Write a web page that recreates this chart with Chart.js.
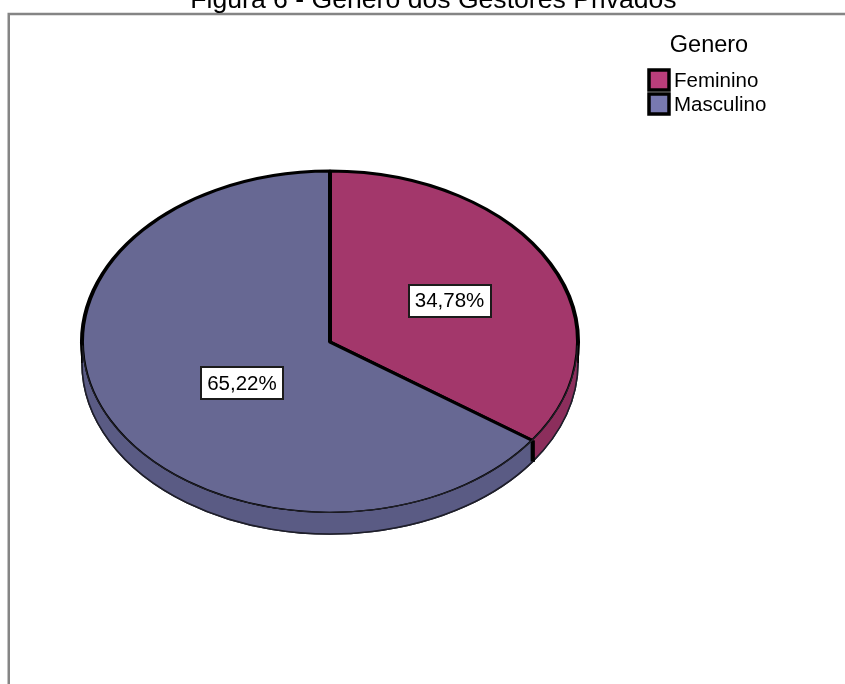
<!DOCTYPE html>
<html><head><meta charset="utf-8">
<script src="https://cdn.jsdelivr.net/npm/chart.js@4/dist/chart.umd.min.js"></script>
<style>html,body{margin:0;padding:0;background:#fff;overflow:hidden}#wrap{position:relative;width:845px;height:684px}canvas{display:block}</style>
</head><body><div id="wrap"><canvas id="c" width="845" height="684"></canvas></div>
<script>
// ---- data ----
const titleText = 'Figura 6 - Gênero dos Gestores Privados';
const legendTitle = 'Genero';
const categories = ['Feminino', 'Masculino'];
const percentages = [34.78, 65.22];

// ---- style ----
const FONT = '"Liberation Sans", Arial, sans-serif';
const style = {
  top: ['#A3376B', '#676893'],
  side: ['#8C2E5C', '#5A5B84'],
  legend: ['#BA3E7B', '#7879B0'],
  squash: 171 / 248,
  depth: 21,
  labelFrac: [[0.543, 0.527], [0.40, 0.527]]
};

function visibleRanges(s, e) {
  const out = [];
  for (const off of [0, 2 * Math.PI]) {
    const a0 = Math.max(s, off), a1 = Math.min(e, off + Math.PI);
    if (a1 > a0) out.push([a0, a1, a0 === s, a1 === e]);
  }
  return out;
}

function drawWalls(ctx, meta) {
  const K = style.squash, D = style.depth;
  meta.data.forEach((arc, i) => {
    const p = arc.getProps(['x', 'y', 'startAngle', 'endAngle', 'outerRadius'], true);
    const R = p.outerRadius, ry = R * K;
    visibleRanges(p.startAngle, p.endAngle).forEach(([a0, a1, b0, b1]) => {
      ctx.beginPath();
      ctx.ellipse(p.x, p.y, R, ry, 0, a0, a1, false);
      ctx.lineTo(p.x + R * Math.cos(a1), p.y + ry * Math.sin(a1) + D);
      ctx.ellipse(p.x, p.y + D, R, ry, 0, a1, a0, true);
      ctx.closePath();
      ctx.fillStyle = style.side[i];
      ctx.fill();
      ctx.beginPath();
      ctx.ellipse(p.x, p.y + D, R, ry, 0, a0, a1, false);
      ctx.lineWidth = 1.6; ctx.strokeStyle = '#1e1e2a'; ctx.stroke();
      [[a0, b0], [a1, b1]].forEach(([a, isBoundary]) => {
        const ex = p.x + R * Math.cos(a), ey = p.y + ry * Math.sin(a);
        ctx.beginPath();
        ctx.moveTo(ex, ey); ctx.lineTo(ex, ey + D);
        ctx.lineWidth = isBoundary ? 4 : 1.6;
        ctx.strokeStyle = '#000';
        ctx.stroke();
      });
    });
  });
}

const pie3d = {
  id: 'pie3d',
  beforeDatasetsDraw(chart) {
    const ctx = chart.ctx;
    const meta = chart.getDatasetMeta(0);
    const K = style.squash;
    ctx.save();
    drawWalls(ctx, meta);
    ctx.restore();
    const cy = meta.data[0].y;
    ctx.save();
    ctx.translate(0, cy); ctx.scale(1, K); ctx.translate(0, -cy);
  },
  afterDatasetsDraw(chart) {
    const ctx = chart.ctx;
    ctx.restore();
    const meta = chart.getDatasetMeta(0);
    const K = style.squash;
    // thin front rim: repaint the walls outside the top face
    const p0 = meta.data[0].getProps(['x', 'y', 'outerRadius'], true);
    ctx.save();
    ctx.beginPath();
    ctx.rect(0, 0, chart.width, chart.height);
    ctx.ellipse(p0.x, p0.y, p0.outerRadius - 0.3, p0.outerRadius * K - 0.3, 0, 0, 2 * Math.PI);
    ctx.clip('evenodd');
    drawWalls(ctx, meta);
    ctx.restore();
    ctx.save();
    ctx.beginPath();
    ctx.ellipse(p0.x, p0.y, p0.outerRadius - 0.6, p0.outerRadius * K - 0.6, 0, 0.02, Math.PI - 0.02);
    ctx.lineWidth = 1.2; ctx.strokeStyle = '#202028'; ctx.stroke();
    ctx.restore();
    // value labels
    meta.data.forEach((arc, i) => {
      const p = arc.getProps(['x', 'y', 'startAngle', 'endAngle', 'outerRadius'], true);
      const mid = (p.startAngle + p.endAngle) / 2;
      const [fx, fy] = style.labelFrac[i];
      const lx = p.x + Math.cos(mid) * p.outerRadius * fx;
      const ly = p.y + Math.sin(mid) * p.outerRadius * K * fy;
      const text = percentages[i].toFixed(2).replace('.', ',') + '%';
      ctx.save();
      ctx.font = '20.5px ' + FONT;
      const w = ctx.measureText(text).width + 12, h = 32;
      ctx.fillStyle = '#fff';
      ctx.fillRect(Math.round(lx - w / 2), Math.round(ly - h / 2), Math.round(w), h);
      ctx.lineWidth = 2; ctx.strokeStyle = '#1b1b1b';
      ctx.strokeRect(Math.round(lx - w / 2), Math.round(ly - h / 2), Math.round(w), h);
      ctx.fillStyle = '#000'; ctx.textAlign = 'center'; ctx.textBaseline = 'middle';
      ctx.fillText(text, lx, ly + 1);
      ctx.restore();
    });
  }
};

const decor = {
  id: 'decor',
  beforeDraw(chart) {
    const ctx = chart.ctx;
    ctx.save();
    ctx.fillStyle = '#fff'; ctx.fillRect(0, 0, chart.width, chart.height);
    ctx.strokeStyle = '#858585'; ctx.lineWidth = 2.5;
    ctx.beginPath();
    ctx.moveTo(8.75, chart.height); ctx.lineTo(8.75, 14); ctx.lineTo(chart.width, 14);
    ctx.stroke();
    ctx.restore();
  },
  afterDraw(chart) {
    const ctx = chart.ctx;
    ctx.save();
    ctx.fillStyle = '#000';
    ctx.font = '26.6px ' + FONT;
    ctx.textAlign = 'center'; ctx.textBaseline = 'alphabetic';
    ctx.fillText(titleText, 433.5, 7.5);
    ctx.font = '23.5px ' + FONT;
    ctx.fillText(legendTitle, 709, 52);
    ctx.textAlign = 'left';
    ctx.font = '20.5px ' + FONT;
    categories.forEach((c, i) => {
      const by = 70 + i * 24;
      ctx.fillStyle = style.legend[i];
      ctx.fillRect(649, by, 20, 20);
      ctx.lineWidth = 3.5; ctx.strokeStyle = '#000';
      ctx.strokeRect(649, by, 20, 20);
      ctx.fillStyle = '#000';
      ctx.fillText(c, 674, by + 17);
    });
    ctx.restore();
  }
};

new Chart(document.getElementById('c'), {
  type: 'pie',
  data: {
    labels: categories,
    datasets: [{
      data: percentages,
      backgroundColor: style.top,
      borderColor: '#000',
      borderWidth: 4,
      radius: 248
    }]
  },
  options: {
    responsive: false,
    animation: false,
    events: [],
    layout: { padding: { left: 0, right: 185, top: 0, bottom: 0 } },
    plugins: { legend: { display: false }, tooltip: { enabled: false }, title: { display: false } }
  },
  plugins: [decor, pie3d]
});
</script>
</body></html>
